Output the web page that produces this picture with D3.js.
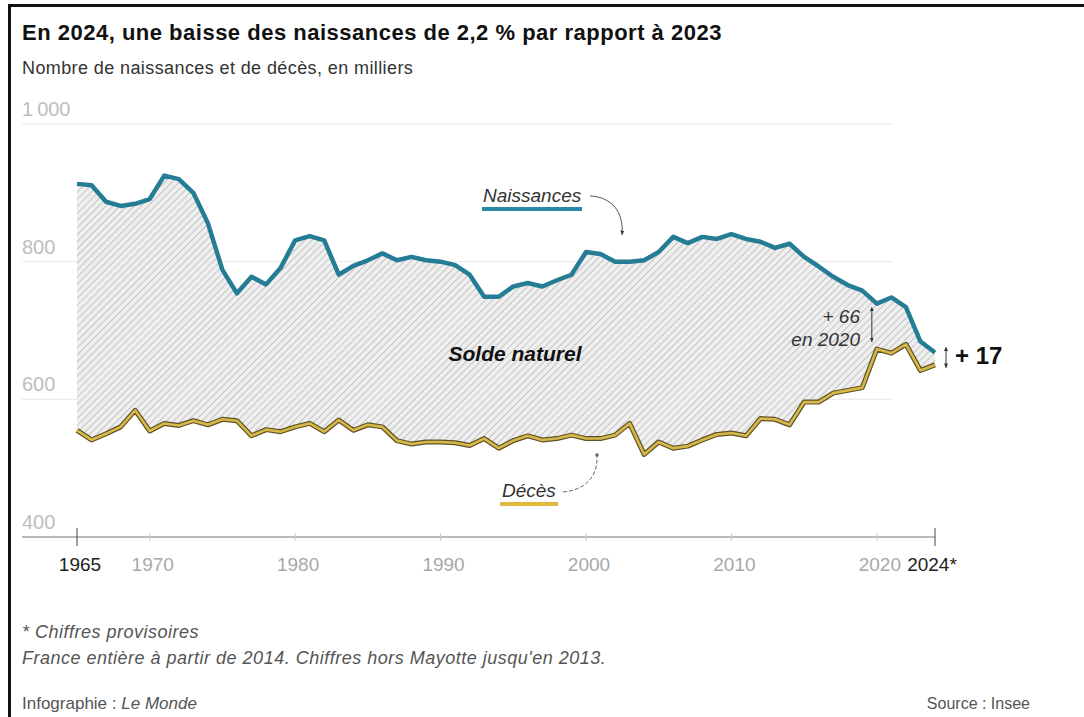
<!DOCTYPE html>
<html lang="fr">
<head>
<meta charset="UTF-8">
<title>Naissances et décès en France</title>
<script src="https://d3js.org/d3.v7.min.js"></script>
<style>
  body { margin: 0; background: #fff; }
  svg { display: block; font-family: "Liberation Sans", Arial, sans-serif; }
</style>
</head>
<body>
<div id="chart"></div>
<script>
// data, in thousands
const years = d3.range(1965, 2025);
const naissances = [913, 911, 887, 881, 884, 891, 925, 920, 900, 856,
  788, 754, 778, 767, 791, 831, 837, 831, 781, 794,
  802, 812, 802, 807, 802, 800, 795, 781, 749, 749,
  764, 769, 764, 773, 781, 814, 811, 800, 800, 802,
  814, 836, 827, 836, 833, 840, 833, 829, 820, 826,
  807, 793, 778, 766, 758, 739, 748, 734, 684, 668];
const deces = [555, 541, 550, 560, 584, 554, 565, 562, 569, 563,
  571, 569, 547, 556, 553, 560, 565, 553, 570, 555,
  563, 560, 540, 535, 538, 538, 537, 533, 543, 529,
  540, 547, 541, 543, 548, 543, 543, 548, 565, 520,
  538, 529, 532, 541, 549, 551, 547, 572, 571, 563,
  596, 596, 609, 613, 617, 673, 667, 680, 642, 650];
const xTicks = [1965, 1970, 1980, 1990, 2000, 2010, 2020, 2024];
const yTicks = [400, 600, 800, 1000];

const width = 1084, height = 717;
const data = years.map((y, i) => ({ year: y, n: naissances[i], d: deces[i] }));

const x = d3.scaleLinear().domain([1965, 2024]).range([77, 935]);
const y = d3.scaleLinear().domain([400, 1000]).range([537, 124]);

const svg = d3.select("#chart").append("svg")
    .attr("width", width)
    .attr("height", height);

// frame (top and left only)
svg.append("rect").attr("x", 8).attr("y", 4).attr("width", width - 8).attr("height", 3).attr("fill", "#111");
svg.append("rect").attr("x", 8).attr("y", 4).attr("width", 3).attr("height", height - 4).attr("fill", "#111");

const defs = svg.append("defs");
const pat = defs.append("pattern")
    .attr("id", "hatch")
    .attr("patternUnits", "userSpaceOnUse")
    .attr("width", 5).attr("height", 5)
    .attr("patternTransform", "rotate(45)");
pat.append("rect").attr("width", 5).attr("height", 5).attr("fill", "#efefef");
pat.append("line").attr("x1", 0).attr("y1", 0).attr("x2", 0).attr("y2", 5)
    .attr("stroke", "#c4c4c4").attr("stroke-width", 2);

["arrowEnd", "arrowStart"].forEach(function(id, k) {
  defs.append("marker")
      .attr("id", id)
      .attr("viewBox", "0 0 10 10")
      .attr("refX", k ? 1 : 9).attr("refY", 5)
      .attr("markerWidth", 5).attr("markerHeight", 5)
      .attr("orient", "auto-start-reverse")
    .append("path")
      .attr("d", "M0,1 L9,5 L0,9 Z")
      .attr("fill", "#333");
});

// title
svg.append("text").attr("x", 22).attr("y", 40)
    .attr("font-size", 22).attr("font-weight", 700).attr("letter-spacing", 0.5).attr("fill", "#111")
    .text("En 2024, une baisse des naissances de 2,2 % par rapport à 2023");
svg.append("text").attr("x", 22).attr("y", 74)
    .attr("font-size", 18).attr("letter-spacing", 0.4).attr("fill", "#333")
    .text("Nombre de naissances et de décès, en milliers");

// grid
svg.append("g").selectAll("line")
    .data(yTicks.filter(d => d > 400))
    .enter().append("line")
    .attr("x1", 22).attr("x2", 893)
    .attr("y1", d => y(d)).attr("y2", d => y(d))
    .attr("stroke", "#e8e8e8").attr("stroke-width", 1);

svg.append("g").selectAll("text")
    .data(yTicks)
    .enter().append("text")
    .attr("x", 22).attr("y", d => y(d) - 8)
    .attr("font-size", 20).attr("fill", "#bdbdbd")
    .text(d => d === 1000 ? "1\u2009000" : d);

// hatched area between the two lines
const area = d3.area()
    .x(d => x(d.year))
    .y0(d => y(d.d))
    .y1(d => y(d.n));
svg.append("path").datum(data)
    .attr("d", area)
    .attr("fill", "url(#hatch)");

// lines
const lineN = d3.line().x(d => x(d.year)).y(d => y(d.n));
const lineD = d3.line().x(d => x(d.year)).y(d => y(d.d));

svg.append("path").datum(data).attr("d", lineD)
    .attr("fill", "none").attr("stroke", "#5e5228").attr("stroke-width", 5)
    .attr("stroke-linejoin", "round");
svg.append("path").datum(data).attr("d", lineD)
    .attr("fill", "none").attr("stroke", "#d8b848").attr("stroke-width", 2.6)
    .attr("stroke-linejoin", "round");
svg.append("path").datum(data).attr("d", lineN)
    .attr("fill", "none").attr("stroke", "#257c95").attr("stroke-width", 4.5)
    .attr("stroke-linejoin", "round");

// x axis
svg.append("line")
    .attr("x1", 22).attr("x2", x(2024))
    .attr("y1", 537).attr("y2", 537)
    .attr("stroke", "#777").attr("stroke-width", 1);

const edge = d => d === 1965 || d === 2024;
const xa = svg.append("g");
xa.selectAll("line")
    .data(xTicks)
    .enter().append("line")
    .attr("x1", d => x(d)).attr("x2", d => x(d))
    .attr("y1", d => edge(d) ? 528 : 533)
    .attr("y2", d => edge(d) ? 546 : 541)
    .attr("stroke", d => edge(d) ? "#444" : "#ccc")
    .attr("stroke-width", 1);
xa.selectAll("text")
    .data(xTicks)
    .enter().append("text")
    .attr("x", d => x(d) + (d === 2024 ? -3 : 3)).attr("y", 571)
    .attr("text-anchor", "middle")
    .attr("font-size", 19)
    .attr("fill", d => edge(d) ? "#222" : "#a8a8a8")
    .text(d => d === 2024 ? "2024*" : d);

// series labels
svg.append("text").attr("x", 483).attr("y", 202)
    .attr("font-size", 19).attr("font-style", "italic").attr("fill", "#333")
    .text("Naissances");
svg.append("rect").attr("x", 482).attr("y", 207).attr("width", 100).attr("height", 4)
    .attr("fill", "#2a8aa8");
svg.append("path")
    .attr("d", "M590,196 C612,197 624,212 622,235")
    .attr("fill", "none").attr("stroke", "#555").attr("stroke-width", 1)
    .attr("marker-end", "url(#arrowEnd)");

svg.append("text").attr("x", 502).attr("y", 497)
    .attr("font-size", 19).attr("font-style", "italic").attr("fill", "#333")
    .text("Décès");
svg.append("rect").attr("x", 500).attr("y", 502).attr("width", 58).attr("height", 4)
    .attr("fill", "#e0b83a");
svg.append("path")
    .attr("d", "M563,492 C586,490 598,476 597,456")
    .attr("fill", "none").attr("stroke", "#666").attr("stroke-width", 1)
    .attr("stroke-dasharray", "4,2");
svg.append("circle").attr("cx", 597).attr("cy", 455).attr("r", 1.8).attr("fill", "#666");

svg.append("text").attr("x", 515).attr("y", 361)
    .attr("text-anchor", "middle")
    .attr("font-size", 21).attr("font-weight", 700).attr("font-style", "italic").attr("fill", "#111")
    .text("Solde naturel");

// +66 en 2020
const i20 = years.indexOf(2020);
svg.append("line")
    .attr("x1", x(2020) - 5).attr("x2", x(2020) - 5)
    .attr("y1", y(naissances[i20]) + 7).attr("y2", y(deces[i20]) - 7)
    .attr("stroke", "#333").attr("stroke-width", 1)
    .attr("marker-start", "url(#arrowStart)").attr("marker-end", "url(#arrowEnd)");
svg.append("text").attr("x", 860).attr("y", 323)
    .attr("text-anchor", "end").attr("font-size", 19).attr("font-style", "italic").attr("fill", "#333")
    .text("+ 66");
svg.append("text").attr("x", 860).attr("y", 346)
    .attr("text-anchor", "end").attr("font-size", 19).attr("font-style", "italic").attr("fill", "#333")
    .text("en 2020");

// +17 in 2024
const i24 = years.indexOf(2024);
svg.append("line")
    .attr("x1", x(2024) + 11).attr("x2", x(2024) + 11)
    .attr("y1", y(naissances[i24]) - 2).attr("y2", y(deces[i24]) + 3)
    .attr("stroke", "#333").attr("stroke-width", 1)
    .attr("marker-start", "url(#arrowStart)").attr("marker-end", "url(#arrowEnd)");
svg.append("text").attr("x", x(2024) + 20).attr("y", 364)
    .attr("font-size", 24).attr("font-weight", 900).attr("fill", "#111")
    .text("+ 17");

// footer
svg.append("text").attr("x", 22).attr("y", 638)
    .attr("font-size", 18).attr("letter-spacing", 0.5).attr("font-style", "italic").attr("fill", "#555")
    .text("* Chiffres provisoires");
svg.append("text").attr("x", 22).attr("y", 664)
    .attr("font-size", 18).attr("letter-spacing", 0.5).attr("font-style", "italic").attr("fill", "#555")
    .text("France entière à partir de 2014. Chiffres hors Mayotte jusqu'en 2013.");
const credit = svg.append("text").attr("x", 22).attr("y", 709)
    .attr("font-size", 17).attr("fill", "#555");
credit.append("tspan").text("Infographie : ");
credit.append("tspan").attr("font-style", "italic").text("Le Monde");
svg.append("text").attr("x", 1030).attr("y", 709)
    .attr("text-anchor", "end").attr("font-size", 16).attr("fill", "#555")
    .text("Source : Insee");
</script>
</body>
</html>
